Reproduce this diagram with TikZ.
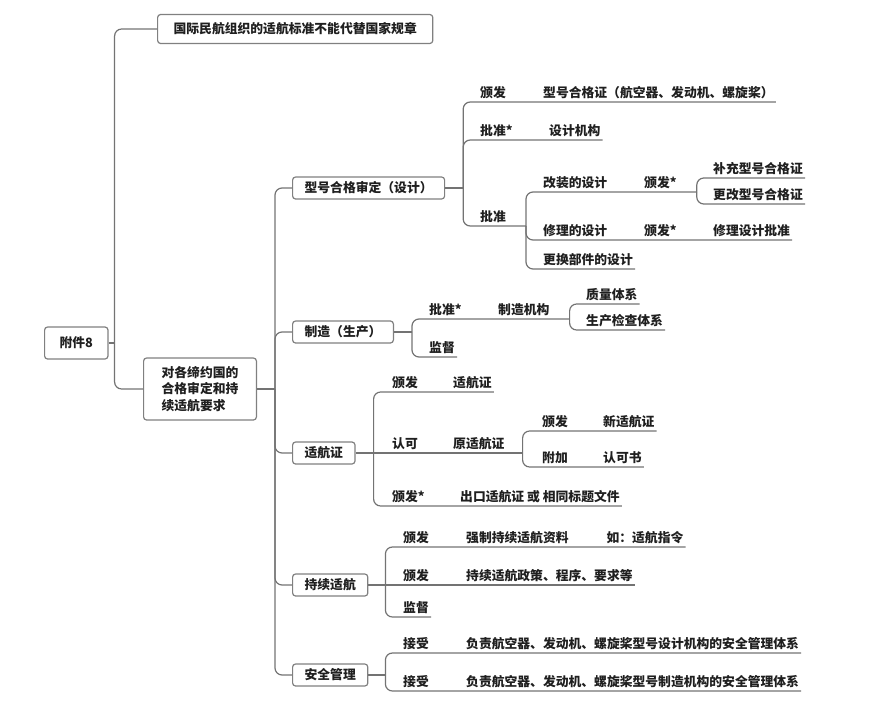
\documentclass[tikz,border=0pt]{standalone}
\usepackage{fontspec}
\setmainfont{Noto Sans CJK SC}
\usepackage{tikz}

\begin{document}
\begin{tikzpicture}[x=1pt,y=-1pt,
    every node/.style={font=\fontsize{12.8}{16.5}\selectfont\bfseries,text=black!88},
    box/.style={draw=black!50,line width=1.2pt,rounded corners=3pt,inner xsep=12pt,minimum height=22pt,anchor=west},
    leaf/.style={inner xsep=2pt,inner ysep=3pt,anchor=south west},
    branch/.style={draw=black!55,line width=1.2pt,rounded corners=7pt}]
    \useasboundingbox (0,0) rectangle (874,704);

    \node[box,minimum height=32pt,inner xsep=15pt] (fj8) at (44,343) {附件8};
    \node[box,minimum height=29pt,inner xsep=16pt] (gjbz) at (157,29) {国际民航组织的适航标准不能代替国家规章};
    \node[box,minimum height=62pt,inner xsep=18pt,align=left] (yq) at (143,389) {对各缔约国的\\合格审定和持\\续适航要求};

    \node[box] (xh) at (292,188) {型号合格审定（设计）};
    \node[box] (zz) at (292,332) {制造（生产）};
    \node[box] (shz) at (292,453) {适航证};
    \node[box] (cxsh) at (292,585) {持续适航};
    \node[box] (aq) at (292,675) {安全管理};

    \node[leaf] (ff1) at (478,102) {颁发};
    \node[leaf] (tc) at (541,102) {型号合格证（航空器、发动机、螺旋桨）};
    \node[leaf] (pz1) at (478,140) {批准*};
    \node[leaf] (sjjg) at (547,140) {设计机构};
    \node[leaf] (pz2) at (478,226) {批准};
    \node[leaf] (gz) at (541,192) {改装的设计};
    \node[leaf] (ff2) at (642,192) {颁发*};
    \node[leaf] (bc) at (711,178) {补充型号合格证};
    \node[leaf] (gg) at (711,204) {更改型号合格证};
    \node[leaf] (xl) at (541,240) {修理的设计};
    \node[leaf] (ff3) at (642,240) {颁发*};
    \node[leaf] (xlpz) at (711,240) {修理设计批准};
    \node[leaf] (gh) at (541,269) {更换部件的设计};

    \node[leaf] (pz3) at (427,319) {批准*};
    \node[leaf] (zzjg) at (496,319) {制造机构};
    \node[leaf] (zl) at (584,304) {质量体系};
    \node[leaf] (sc) at (584,330) {生产检查体系};
    \node[leaf] (jd1) at (427,357) {监督};

    \node[leaf] (ff4) at (390,392) {颁发};
    \node[leaf] (shz1) at (451,392) {适航证};
    \node[leaf] (rk) at (390,453) {认可};
    \node[leaf] (yshz) at (451,453) {原适航证};
    \node[leaf] (ff5) at (540,431) {颁发};
    \node[leaf] (xshz) at (601,431) {新适航证};
    \node[leaf] (fj) at (540,467) {附加};
    \node[leaf] (rks) at (601,467) {认可书};
    \node[leaf] (ff6) at (390,506) {颁发*};
    \node[leaf] (ck) at (458,506) {出口适航证 或 相同标题文件};

    \node[leaf] (ff7) at (401,547) {颁发};
    \node[leaf] (qz) at (464,547) {强制持续适航资料\hspace{38pt}如：适航指令};
    \node[leaf] (ff8) at (401,585) {颁发};
    \node[leaf] (cx) at (464,585) {持续适航政策、程序、要求等};
    \node[leaf] (jd2) at (401,617) {监督};

    \node[leaf] (js1) at (401,653) {接受};
    \node[leaf] (fz1) at (464,653) {负责航空器、发动机、螺旋桨型号设计机构的安全管理体系};
    \node[leaf] (js2) at (401,691) {接受};
    \node[leaf] (fz2) at (464,691) {负责航空器、发动机、螺旋桨型号制造机构的安全管理体系};

    \draw[branch] (fj8.east) -- ++(6,0) coordinate (s0);
    \draw[branch] (s0) |- (gjbz.west);
    \draw[branch] (s0) |- (yq.west);

    \draw[branch] (yq.east) -- ++(18,0) coordinate (s1);
    \draw[branch] (s1) |- (xh.west);
    \draw[branch] (s1) |- (zz.west);
    \draw[branch] (s1) |- (shz.west);
    \draw[branch] (s1) |- (cxsh.west);
    \draw[branch] (s1) |- (aq.west);

    \draw[branch] (xh.east) -- ++(18,0) coordinate (s2);
    \draw[branch] (s2) |- (ff1.south west) -- (ff1.south east) -- (tc.south west) -- (tc.south east);
    \draw[branch] (s2) |- (pz1.south west) -- (pz1.south east) -- (sjjg.south west) -- (sjjg.south east);
    \draw[branch] (s2) |- (pz2.south west) -- (pz2.south east) -- ++(18,0) coordinate (s3);
    \draw[branch] (s3) |- (gz.south west) -- (gz.south east) -- (ff2.south west) -- (ff2.south east) -- ++(18,0) coordinate (s4);
    \draw[branch] (s4) |- (bc.south west) -- (bc.south east);
    \draw[branch] (s4) |- (gg.south west) -- (gg.south east);
    \draw[branch] (s3) |- (xl.south west) -- (xl.south east) -- (ff3.south west) -- (ff3.south east) -- (xlpz.south west) -- (xlpz.south east);
    \draw[branch] (s3) |- (gh.south west) -- (gh.south east);

    \draw[branch] (zz.east) -- ++(18,0) coordinate (s5);
    \draw[branch] (s5) |- (pz3.south west) -- (pz3.south east) -- (zzjg.south west) -- (zzjg.south east) -- ++(18,0) coordinate (s6);
    \draw[branch] (s6) |- (zl.south west) -- (zl.south east);
    \draw[branch] (s6) |- (sc.south west) -- (sc.south east);
    \draw[branch] (s5) |- (jd1.south west) -- (jd1.south east);

    \draw[branch] (shz.east) -- ++(18,0) coordinate (s7);
    \draw[branch] (s7) |- (ff4.south west) -- (ff4.south east) -- (shz1.south west) -- (shz1.south east);
    \draw[branch] (s7) -- (rk.south west) -- (rk.south east) -- (yshz.south west) -- (yshz.south east) -- ++(16,0) coordinate (s8);
    \draw[branch] (s8) |- (ff5.south west) -- (ff5.south east) -- (xshz.south west) -- (xshz.south east);
    \draw[branch] (s8) |- (fj.south west) -- (fj.south east) -- (rks.south west) -- (rks.south east);
    \draw[branch] (s7) |- (ff6.south west) -- (ff6.south east) -- (ck.south west) -- (ck.south east);

    \draw[branch] (cxsh.east) -- ++(17,0) coordinate (s9);
    \draw[branch] (s9) |- (ff7.south west) -- (ff7.south east) -- (qz.south west) -- (qz.south east);
    \draw[branch] (s9) -- (ff8.south west) -- (ff8.south east) -- (cx.south west) -- (cx.south east);
    \draw[branch] (s9) |- (jd2.south west) -- (jd2.south east);

    \draw[branch] (aq.east) -- ++(17,0) coordinate (s10);
    \draw[branch] (s10) |- (js1.south west) -- (js1.south east) -- (fz1.south west) -- (fz1.south east);
    \draw[branch] (s10) |- (js2.south west) -- (js2.south east) -- (fz2.south west) -- (fz2.south east);
\end{tikzpicture}
\end{document}
